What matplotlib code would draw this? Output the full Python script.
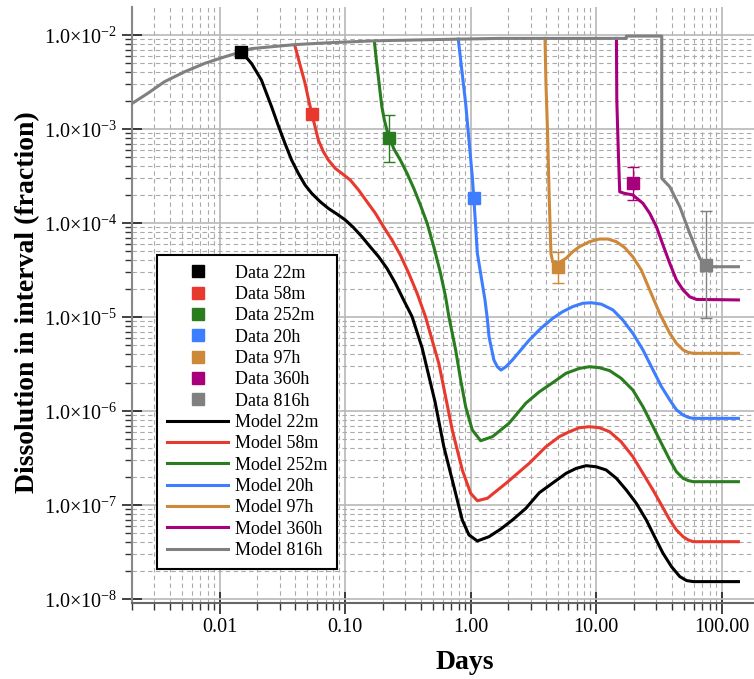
import numpy as np
import matplotlib.pyplot as plt
from matplotlib.ticker import FixedLocator, FuncFormatter, LogLocator, NullFormatter

plt.rcParams['font.family'] = ['Liberation Serif', 'DejaVu Serif']
plt.rcParams['mathtext.fontset'] = 'custom'
plt.rcParams['mathtext.rm'] = 'Liberation Serif'
plt.rcParams['mathtext.bf'] = 'Liberation Serif:bold'

names = ['22m', '58m', '252m', '20h', '97h', '360h', '816h']
colors = ['#000000', '#e8392e', '#2a7d1f', '#3d7dff', '#cd8838', '#a8007d', '#808080']

# measured points (days, fraction) and error-bar bounds
data_x = [0.0149, 0.0541, 0.225, 1.06, 4.93, 19.6, 74.5]
data_y = [6.6e-3, 1.45e-3, 8.1e-4, 1.83e-4, 3.43e-5, 2.64e-4, 3.57e-5]
err_lo = [6.6e-3, 1.45e-3, 4.5e-4, 1.70e-4, 2.32e-5, 1.76e-4, 9.7e-6]
err_hi = [6.6e-3, 1.45e-3, 1.41e-3, 1.97e-4, 4.87e-5, 3.96e-4, 1.35e-4]

# model curves
m22_x = [0.0149, 0.0179, 0.0215, 0.0259, 0.0292, 0.0331, 0.0374, 0.0423, 0.0479, 0.0541,
         0.0631, 0.0735, 0.0857, 0.100, 0.116, 0.136, 0.158, 0.185, 0.215, 0.251, 0.292,
         0.341, 0.410, 0.52, 0.611, 0.735, 0.857, 0.969, 1.13, 1.40, 1.74, 2.15, 2.75,
         3.52, 5.75, 6.92, 8.32, 10.0, 12.0, 14.5, 17.4, 20.9, 25.1, 29.2, 34.1, 39.8,
         46.4, 52.5, 59.3, 136]
m22_y = [6.64e-3, 5.0e-3, 3.32e-3, 1.73e-3, 1.10e-3, 7.05e-4, 4.68e-4, 3.38e-4, 2.54e-4,
         2.07e-4, 1.69e-4, 1.43e-4, 1.25e-4, 1.08e-4, 9.0e-5, 7.14e-5, 5.60e-5, 4.37e-5,
         3.30e-5, 2.29e-5, 1.52e-5, 1.01e-5, 4.7e-6, 1.25e-6, 4.17e-7, 1.57e-7, 6.92e-8,
         4.80e-8, 4.14e-8, 4.60e-8, 5.56e-8, 6.92e-8, 9.2e-8, 1.35e-7, 2.17e-7, 2.45e-7,
         2.62e-7, 2.55e-7, 2.36e-7, 1.92e-7, 1.44e-7, 1.04e-7, 6.92e-8, 4.60e-8, 3.06e-8,
         2.21e-8, 1.73e-8, 1.57e-8, 1.53e-8, 1.53e-8]

m58_x = [0.0398, 0.0437, 0.0479, 0.0508, 0.0541, 0.0575, 0.0611, 0.0670, 0.0735, 0.0832,
         0.094, 0.110, 0.128, 0.149, 0.174, 0.202, 0.236, 0.275, 0.321, 0.374, 0.436,
         0.557, 0.593, 0.713, 0.857, 1.0, 1.13, 1.36, 1.91, 2.93, 3.98, 5.08, 6.11, 7.35,
         8.84, 10.6, 12.8, 15.8, 19.6, 23.6, 28.4, 33.1, 38.6, 43.6, 49.3, 54.1, 59.3, 136]
m58_y = [7.64e-3, 4.80e-3, 3.06e-3, 2.12e-3, 1.47e-3, 1.06e-3, 7.64e-4, 5.74e-4, 4.68e-4,
         3.82e-4, 3.38e-4, 2.86e-4, 2.24e-4, 1.69e-4, 1.27e-4, 9.14e-5, 6.59e-5, 4.57e-5,
         2.92e-5, 1.79e-5, 1.01e-5, 3.21e-6, 2.14e-6, 6.28e-7, 2.36e-7, 1.33e-7, 1.11e-7,
         1.18e-7, 1.70e-7, 2.78e-7, 4.17e-7, 5.33e-7, 6.02e-7, 6.64e-7, 6.81e-7, 6.64e-7,
         6.02e-7, 4.71e-7, 3.27e-7, 2.17e-7, 1.44e-7, 1.0e-7, 6.92e-8, 5.42e-8, 4.60e-8,
         4.25e-8, 4.07e-8, 4.07e-8]

m252_x = [0.171, 0.177, 0.185, 0.191, 0.196, 0.205, 0.215, 0.243, 0.275, 0.311, 0.352,
          0.398, 0.450, 0.508, 0.575, 0.631, 0.670, 0.759, 0.832, 0.912, 1.03, 1.20, 1.49,
          2.02, 2.75, 3.52, 4.50, 5.75, 7.35, 8.84, 10.6, 12.8, 15.8, 19.6, 23.6, 28.4,
          33.1, 38.6, 43.6, 49.3, 54.1, 59.3, 136]
m252_y = [8.49e-3, 5.42e-3, 3.32e-3, 2.30e-3, 1.73e-3, 1.25e-3, 9.76e-4, 6.24e-4, 4.68e-4,
          3.38e-4, 2.34e-4, 1.55e-4, 9.93e-5, 5.60e-5, 2.92e-5, 1.64e-5, 1.01e-5, 4.46e-6,
          2.14e-6, 1.11e-6, 6.28e-7, 4.83e-7, 5.33e-7, 7.40e-7, 1.21e-6, 1.60e-6, 2.0e-6,
          2.52e-6, 2.84e-6, 2.96e-6, 2.89e-6, 2.69e-6, 2.23e-6, 1.67e-6, 1.11e-6, 6.81e-7,
          4.53e-7, 3.01e-7, 2.26e-7, 1.92e-7, 1.82e-7, 1.77e-7, 1.77e-7]

m20h_x = [0.796, 0.912, 1.03, 1.06, 1.13, 1.30, 1.36, 1.40, 1.53, 1.63, 1.74, 1.91, 2.15,
          2.51, 2.93, 3.63, 4.50, 5.41, 6.50, 7.81, 9.12, 11.0, 13.6, 16.3, 19.6, 23.6,
          28.4, 33.1, 38.6, 43.6, 49.3, 54.1, 59.3, 136]
m20h_y = [9.06e-3, 1.87e-3, 3.11e-4, 1.83e-4, 4.76e-5, 1.52e-5, 9.29e-6, 6.17e-6, 3.49e-6,
          2.96e-6, 2.73e-6, 2.96e-6, 3.49e-6, 4.46e-6, 5.69e-6, 7.59e-6, 9.68e-6, 1.14e-5,
          1.29e-5, 1.40e-5, 1.42e-5, 1.37e-5, 1.19e-5, 9.29e-6, 6.71e-6, 4.46e-6, 2.73e-6,
          1.82e-6, 1.31e-6, 1.03e-6, 9.06e-7, 8.57e-7, 8.35e-7, 8.35e-7]

m97h_x = [3.91, 3.98, 4.10, 4.23, 4.36, 4.50, 4.64, 5.0, 5.75, 6.50, 7.35, 8.84, 10.6,
          12.4, 14.5, 16.8, 19.6, 22.9, 26.7, 32.1, 38.6, 43.6, 49.3, 54.1, 59.3, 136]
m97h_y = [9.22e-3, 3.06e-3, 9.0e-4, 1.76e-4, 4.76e-5, 3.87e-5, 3.72e-5, 3.75e-5, 4.21e-5,
          4.95e-5, 5.60e-5, 6.33e-5, 6.76e-5, 6.76e-5, 6.33e-5, 5.51e-5, 4.37e-5, 3.16e-5,
          1.94e-5, 1.09e-5, 6.71e-6, 5.25e-6, 4.46e-6, 4.21e-6, 4.11e-6, 4.11e-6]

m360h_x = [14.5, 14.6, 15.0, 15.4, 16.8, 19.6, 23.6, 26.7, 30.2, 34.1, 38.6, 43.6, 49.3,
           55.7, 63.1, 136]
m360h_y = [9.22e-3, 2.04e-3, 5.98e-4, 2.15e-4, 2.07e-4, 1.99e-4, 1.62e-4, 1.27e-4, 9.14e-5,
           5.83e-5, 3.72e-5, 2.48e-5, 1.94e-5, 1.64e-5, 1.54e-5, 1.52e-5]

m816h_x = [0.0020, 0.00267, 0.00363, 0.00525, 0.00759, 0.0110, 0.0149, 0.0179, 0.0398,
           0.0735, 0.174, 0.805, 1.68, 17.4, 17.4, 33.3, 33.3, 38.6, 46.4, 55.7, 67.0,
           74.5, 85.7, 136]
m816h_y = [1.87e-3, 2.40e-3, 3.19e-3, 4.07e-3, 5.0e-3, 5.88e-3, 6.64e-3, 7.18e-3, 7.92e-3,
           8.28e-3, 8.70e-3, 9.06e-3, 9.22e-3, 9.22e-3, 9.76e-3, 9.76e-3, 2.99e-4, 2.43e-4,
           1.49e-4, 7.76e-5, 4.21e-5, 3.57e-5, 3.43e-5, 3.43e-5]

models = [(m22_x, m22_y), (m58_x, m58_y), (m252_x, m252_y), (m20h_x, m20h_y),
          (m97h_x, m97h_y), (m360h_x, m360h_y), (m816h_x, m816h_y)]

fig = plt.figure(figsize=(7.54, 6.79), dpi=100)
ax = fig.add_axes([132 / 754, 76 / 679, 622 / 754, 596 / 679])
ax.set_xscale('log')
ax.set_yscale('log')

data_h, model_h = [], []
for i, (mx, my) in enumerate(models):
    ln, = ax.plot(mx, my, color=colors[i], lw=2.2, zorder=3, label='Model ' + names[i],
                  solid_joinstyle='round')
    model_h.append(ln)
for i in range(len(names)):
    lo = data_y[i] - err_lo[i]
    hi = err_hi[i] - data_y[i]
    if hi > 0:
        ax.errorbar([data_x[i]], [data_y[i]], yerr=[[lo], [hi]], fmt='none',
                    ecolor=colors[i], elinewidth=1, capsize=4, capthick=1, zorder=4)
    pt, = ax.plot([data_x[i]], [data_y[i]], 's', color=colors[i], ms=8.5, zorder=5,
                  linestyle='none', label='Data ' + names[i])
    data_h.append(pt)

ax.set_xlim(0.002, 181)
ax.set_ylim(9.06e-9, 0.0199)

ax.grid(True, which='major', color='#b8b8b8', lw=1.2, ls='-', zorder=0)
ax.grid(True, which='minor', color='#aaaaaa', lw=0.8, ls=(0, (4, 3)), zorder=0)
ax.set_axisbelow(True)

ax.xaxis.set_major_locator(FixedLocator([0.01, 0.1, 1, 10, 100]))
ax.xaxis.set_major_formatter(FuncFormatter(lambda v, p: '%.2f' % v))
ax.xaxis.set_minor_locator(LogLocator(base=10, subs=np.arange(2, 10), numticks=20))
ax.xaxis.set_minor_formatter(NullFormatter())
ax.yaxis.set_major_locator(FixedLocator([1e-8, 1e-7, 1e-6, 1e-5, 1e-4, 1e-3, 1e-2]))
ax.yaxis.set_major_formatter(FuncFormatter(
    lambda v, p: '1.0×10$^{%d}$' % int(round(np.log10(v)))))
ax.yaxis.set_minor_locator(LogLocator(base=10, subs=np.arange(2, 10), numticks=20))
ax.yaxis.set_minor_formatter(NullFormatter())

for s in ['top', 'right']:
    ax.spines[s].set_visible(False)
ax.spines['left'].set_color('#888888')
ax.spines['bottom'].set_color('#666666')
ax.spines['left'].set_linewidth(1.5)
ax.spines['bottom'].set_linewidth(1.5)
ax.tick_params(axis='x', which='major', direction='inout', length=16, width=1.2,
               color='#222222', labelsize=14.5, pad=3)
ax.tick_params(axis='y', which='major', direction='inout', length=15, width=1.2,
               color='#222222', labelsize=14.5, pad=3)
ax.tick_params(which='minor', direction='out', length=5, width=1, color='#333333')

ax.set_xlabel('Days', fontsize=20, fontweight='bold')
ax.xaxis.set_label_coords(0.535, -0.079)
ax.set_ylabel('Dissolution in interval (fraction)', fontsize=20, fontweight='bold')
ax.yaxis.set_label_coords(-0.147, 0.505)

leg = ax.legend(data_h + model_h, [h.get_label() for h in data_h + model_h],
                loc='lower left', bbox_to_anchor=(0.040, 0.057), borderaxespad=0,
                fontsize=13, frameon=True, fancybox=False, edgecolor='black',
                framealpha=1, handlelength=3.4, handletextpad=0.35, labelspacing=0.24,
                borderpad=0.55)
leg.get_frame().set_linewidth(1.5)
leg.set_zorder(10)

fig.savefig('out.png', dpi=100)
